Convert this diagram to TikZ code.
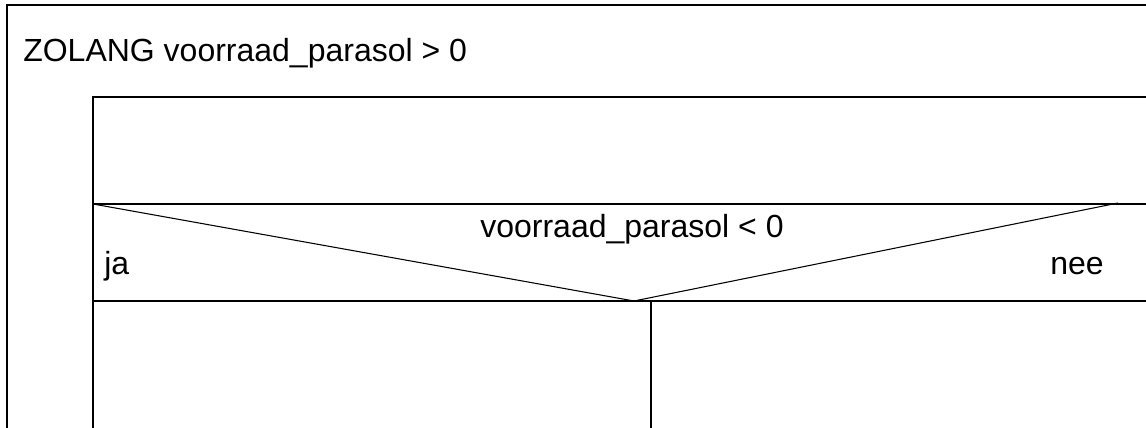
\documentclass[tikz,border=0pt]{standalone}
\usepackage{fontspec}
\setmainfont{Liberation Sans}
\begin{document}
\begin{tikzpicture}[x=0.75pt,y=-0.75pt,
  frame/.style={line width=1.6pt,line cap=rect},
  thin/.style={line width=0.8pt},
  lbl/.style={inner sep=0pt,font=\fontsize{24}{28}\selectfont}]
\useasboundingbox[fill=white] (0,0) rectangle (1146,428);
% outer loop box (continues beyond picture)
\draw[frame] (1160,5) -- (7,5) -- (7,440);
\node[lbl,anchor=base west] (loop) at (23,62) {ZOLANG voorraad\_parasol > 0};
% inner box
\draw[frame] (1160,97) -- (93,97) -- (93,440);
\draw[frame] (93,204) -- (1160,204);
\draw[frame] (93,301) -- (1160,301);
% decision triangle
\coordinate (tl) at (93,204);
\coordinate (apex) at (634,301);
\coordinate (tr) at (1118,203);
\draw[thin] (tl) -- (apex) -- (tr);
\node[lbl,anchor=base] (cond) at (632,237) {voorraad\_parasol < 0};
\node[lbl,anchor=base west] (ja) at (104,274) {ja};
\node[lbl,anchor=base west] (nee) at (1050,274) {nee};
% branch divider
\coordinate (dtop) at (651,301);
\coordinate (dbot) at (651,440);
\draw[frame] (dtop) -- (dbot);
\end{tikzpicture}
\end{document}
